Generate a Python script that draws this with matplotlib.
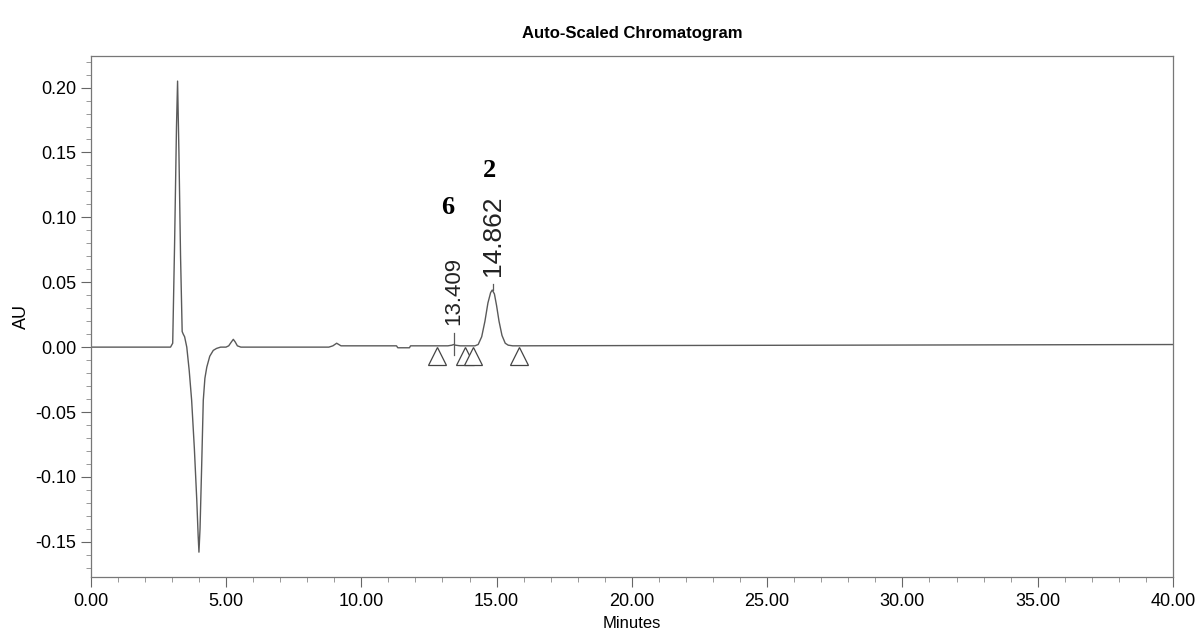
import matplotlib
matplotlib.use("Agg")
import matplotlib.pyplot as plt  # type: ignore
from matplotlib.ticker import MultipleLocator, FormatStrFormatter  # type: ignore

# --- DATA ---
time_min = [0.00, 2.95, 3.03, 3.10, 3.17, 3.21, 3.26, 3.32, 3.38, 3.42, 3.47, 3.55,
            3.64, 3.73, 3.83, 3.92, 3.97, 4.00, 4.04, 4.10, 4.16, 4.22, 4.29, 4.40,
            4.53, 4.65, 4.80, 5.00, 5.10, 5.20, 5.27, 5.34, 5.42, 5.55, 8.80, 8.95,
            9.09, 9.25, 9.40, 11.30, 11.35, 11.78, 11.82, 13.20, 13.35, 13.41, 13.48,
            13.65, 14.20, 14.32, 14.45, 14.57, 14.68, 14.78, 14.84, 14.92, 15.00,
            15.09, 15.20, 15.32, 15.43, 15.60, 20.00, 30.00, 40.00]
absorb_au = [0.000, 0.000, 0.003, 0.080, 0.170, 0.205, 0.150, 0.070, 0.012, 0.010,
             0.008, 0.000, -0.018, -0.041, -0.078, -0.118, -0.145, -0.158, -0.140,
             -0.092, -0.041, -0.024, -0.0154, -0.007, -0.0025, -0.001, 0.000, 0.000,
             0.001, 0.004, 0.006, 0.004, 0.001, 0.000, 0.000, 0.001, 0.003, 0.001,
             0.001, 0.001, -0.0005, -0.0005, 0.001, 0.001, 0.0015, 0.002, 0.0015,
             0.001, 0.001, 0.002, 0.008, 0.020, 0.034, 0.042, 0.044, 0.041, 0.032,
             0.020, 0.009, 0.003, 0.0015, 0.001, 0.0012, 0.0016, 0.002]

# integration start/end markers
marker_times = [12.78, 13.83, 14.12, 15.82]
marker_level = -0.0065

# labelled peaks: retention time, apex, label base
peak_rt = [13.409, 14.862]
peak_apex = [-0.006, 0.044]
peak_label_y = [0.0167, 0.055]
peak_label_size = [16, 19]

# compound numbers written on the figure
compound_ids = ["6", "2"]
compound_x = [13.2, 14.75]
compound_y = [0.1075, 0.136]

LINE = "#5a5a5a"

fig = plt.figure(figsize=(12, 6.34), dpi=100)
ax = fig.add_axes([0.0756, 0.0904, 0.9019, 0.8218])

ax.plot(time_min, absorb_au, color=LINE, linewidth=1.0)
ax.plot(marker_times, [marker_level] * len(marker_times), linestyle="none",
        marker="^", markersize=13, markerfacecolor="white",
        markeredgecolor="#444444", markeredgewidth=0.9)

for rt, y0, yl, fs in zip(peak_rt, peak_apex, peak_label_y, peak_label_size):
    ax.plot([rt, rt], [y0, yl - 0.006], color=LINE, linewidth=0.9)
    ax.text(rt, yl, f"{rt:.3f}", rotation=90, ha="center", va="bottom",
            fontsize=fs, family="Liberation Sans", color="#222222")

for cid, cx, cy in zip(compound_ids, compound_x, compound_y):
    ax.text(cx, cy, cid, ha="center", va="center", fontsize=19,
            fontweight="bold", family="Liberation Serif", color="black")

ax.set_xlim(0, 40)
ax.set_ylim(-0.1769, 0.2246)
ax.xaxis.set_major_locator(MultipleLocator(5))
ax.xaxis.set_minor_locator(MultipleLocator(1))
ax.yaxis.set_major_locator(MultipleLocator(0.05))
ax.yaxis.set_minor_locator(MultipleLocator(0.01))
ax.xaxis.set_major_formatter(FormatStrFormatter("%.2f"))
ax.yaxis.set_major_formatter(FormatStrFormatter("%.2f"))

ax.tick_params(which="major", direction="out", length=7, width=0.8,
               color="#666666", labelsize=13)
ax.tick_params(which="minor", direction="out", length=3.5, width=0.6,
               color="#888888")
ax.tick_params(axis="x", which="major", pad=5)
for lab in ax.get_xticklabels() + ax.get_yticklabels():
    lab.set_family("Liberation Sans")
ax.tick_params(top=False, right=False)

for side in ["top", "right", "bottom", "left"]:
    ax.spines[side].set_color("#777777")
    ax.spines[side].set_linewidth(0.9)

ax.set_xlabel("Minutes", fontsize=12, family="Liberation Sans", labelpad=4)
ax.set_ylabel("AU", fontsize=13, family="Liberation Sans", labelpad=4)
ax.set_title("Auto-Scaled Chromatogram", fontsize=12, fontweight="bold",
             family="Liberation Sans", pad=13)

fig.savefig("out.png", dpi=100)
